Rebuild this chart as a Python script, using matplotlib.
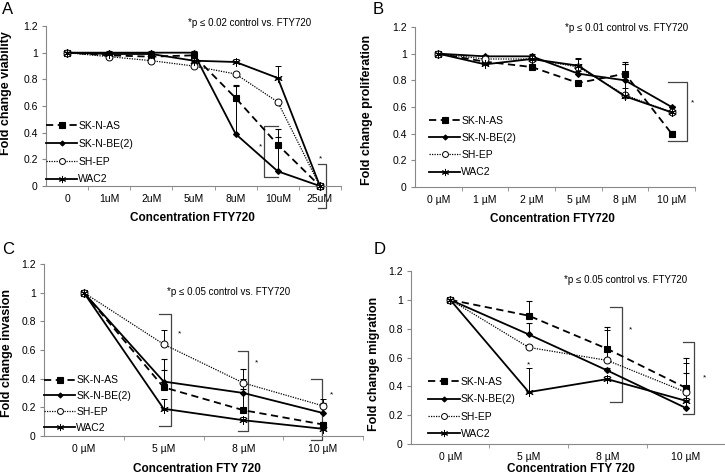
import matplotlib

matplotlib.use("Agg")
import matplotlib.pyplot as plt
from matplotlib.lines import Line2D
import numpy as np

plt.rcParams["font.family"] = ["Liberation Sans", "DejaVu Sans"]

SERIES = ["SK-N-AS", "SK-N-BE(2)", "SH-EP", "WAC2"]

# Panel A: viability
a_cats = ["0", "1uM", "2uM", "5uM", "8uM", "10uM", "25uM"]
a_vals = {
    "SK-N-AS": [1.0, 0.98, 0.97, 0.98, 0.66, 0.31, 0.0],
    "SK-N-BE(2)": [1.0, 1.0, 1.0, 1.0, 0.39, 0.11, 0.0],
    "SH-EP": [1.0, 0.97, 0.94, 0.90, 0.84, 0.63, 0.0],
    "WAC2": [1.0, 0.99, 0.99, 0.94, 0.93, 0.81, 0.0],
}
a_err = {
    "SK-N-AS": [0.0, 0.01, 0.01, 0.02, 0.10, 0.12, 0.0],
    "SK-N-BE(2)": [0.0, 0.01, 0.01, 0.01, 0.36, 0.26, 0.0],
    "SH-EP": [0.0, 0.01, 0.01, 0.01, 0.01, 0.01, 0.0],
    "WAC2": [0.0, 0.01, 0.01, 0.02, 0.02, 0.09, 0.0],
}

# Panel B: proliferation
b_cats = ["0 µM", "1 µM", "2 µM", "5 µM", "8 µM", "10 µM"]
b_vals = {
    "SK-N-AS": [1.0, 0.94, 0.90, 0.78, 0.85, 0.40],
    "SK-N-BE(2)": [1.0, 0.98, 0.98, 0.85, 0.80, 0.60],
    "SH-EP": [1.0, 0.96, 0.96, 0.90, 0.69, 0.56],
    "WAC2": [1.0, 0.92, 0.96, 0.91, 0.68, 0.56],
}
b_err = {
    "SK-N-AS": [0.0, 0.02, 0.01, 0.01, 0.09, 0.02],
    "SK-N-BE(2)": [0.0, 0.01, 0.02, 0.02, 0.12, 0.01],
    "SH-EP": [0.0, 0.02, 0.02, 0.07, 0.05, 0.01],
    "WAC2": [0.0, 0.02, 0.02, 0.05, 0.24, 0.01],
}

# Panel C: invasion
c_cats = ["0 µM", "5 µM", "8 µM", "10 µM"]
c_vals = {
    "SK-N-AS": [1.0, 0.34, 0.18, 0.08],
    "SK-N-BE(2)": [1.0, 0.38, 0.30, 0.16],
    "SH-EP": [1.0, 0.64, 0.37, 0.21],
    "WAC2": [1.0, 0.19, 0.11, 0.05],
}
c_err = {
    "SK-N-AS": [0.0, 0.12, 0.15, 0.02],
    "SK-N-BE(2)": [0.0, 0.16, 0.17, 0.07],
    "SH-EP": [0.0, 0.10, 0.03, 0.05],
    "WAC2": [0.0, 0.07, 0.02, 0.02],
}

# Panel D: migration
d_cats = ["0 µM", "5 µM", "8 µM", "10 µM"]
d_vals = {
    "SK-N-AS": [1.0, 0.89, 0.66, 0.39],
    "SK-N-BE(2)": [1.0, 0.76, 0.51, 0.25],
    "SH-EP": [1.0, 0.67, 0.58, 0.36],
    "WAC2": [1.0, 0.36, 0.45, 0.30],
}
d_err = {
    "SK-N-AS": [0.0, 0.10, 0.15, 0.21],
    "SK-N-BE(2)": [0.0, 0.08, 0.02, 0.24],
    "SH-EP": [0.0, 0.02, 0.21, 0.20],
    "WAC2": [0.0, 0.17, 0.02, 0.02],
}

# significance brackets: (x_vertical, x_arm_end, y_top, y_bottom, x_star, y_star)
a_brackets = [(4.68, 5.0, 0.45, 0.07, 4.60, 0.29), (6.14, 5.95, 0.165, -0.165, 6.02, 0.20)]
b_brackets = [(5.33, 4.92, 0.79, 0.345, 5.45, 0.63)]
c_brackets = [(1.09, 0.94, 0.85, 0.07, 1.2, 0.71), (2.06, 1.93, 0.59, 0.035, 2.17, 0.51),
              (2.99, 2.85, 0.40, -0.03, 3.1, 0.29)]
d_brackets = [(2.19, 2.04, 0.95, 0.29, 2.29, 0.79), (3.11, 2.96, 0.71, 0.21, 3.24, 0.46)]
d_extra_stars = [(1.0, 0.55)]

STYLE = {
    "SK-N-AS": dict(ls=(0, (4, 2.5)), marker="s", ms=5, mfc="black", mew=0.8),
    "SK-N-BE(2)": dict(ls="-", marker="D", ms=3, mfc="black", mew=0.8),
    "SH-EP": dict(ls=(0, (1, 1)), marker="o", ms=5, mfc="white", mew=0.7, lw=0.9),
    "WAC2": dict(ls="-", marker=(6, 2, 0), ms=6, mfc="black", mew=0.7),
}


def draw_panel(ax, cats, vals, errs, brackets, note, note_xy, letter, letter_xy,
               ylabel, ylabel_xy, xlabel, xlabel_xy, legend_anchor, xmax=None, spacing=0.55):
    x = np.arange(len(cats))
    handles = []
    for name in SERIES:
        st = dict(STYLE[name])
        lw = st.pop("lw", 1.3)
        ax.errorbar(x, vals[name], yerr=[np.zeros(len(x)), errs[name]], color="black",
                    lw=lw, mec="black", elinewidth=0.7, capsize=2, capthick=0.7,
                    clip_on=False, zorder=3, **st)
        st["ms"] = st["ms"] * 0.85
        handles.append(Line2D([], [], color="black", lw=lw, mec="black", label=name, **st))
    for xv, xa, yt, yb, xs, ys in brackets:
        ax.plot([xa, xv, xv, xa], [yt, yt, yb, yb], color="#444444", lw=0.9, clip_on=False)
        ax.text(xs, ys, "*", fontsize=6, ha="center", va="center")
    ax.set_xlim(-0.5, xmax if xmax is not None else len(cats) - 0.5)
    ax.set_ylim(0, 1.2)
    ax.set_yticks(np.arange(0, 1.21, 0.2))
    ax.set_yticklabels(["0", "0.2", "0.4", "0.6", "0.8", "1", "1.2"])
    ax.set_xticks(x)
    ax.set_xticklabels(cats)
    ax.set_xticks(np.arange(len(cats)) + 0.5, minor=True)
    ax.tick_params(axis="x", which="major", length=0, pad=6, labelsize=7.5)
    ax.tick_params(axis="x", which="minor", length=3, color="#888888", direction="out")
    ax.tick_params(axis="y", length=3, color="#888888", labelsize=7.5, pad=3)
    for side in ("top", "right"):
        ax.spines[side].set_visible(False)
    for side in ("left", "bottom"):
        ax.spines[side].set_color("#888888")
        ax.spines[side].set_linewidth(0.8)
    ax.set_ylabel(ylabel, fontsize=9, fontweight="bold")
    ax.yaxis.set_label_coords(*ylabel_xy)
    ax.set_xlabel(xlabel, fontsize=8.5, fontweight="bold")
    ax.xaxis.set_label_coords(*xlabel_xy)
    ax.text(*note_xy, note, transform=ax.figure.transFigure, fontsize=7, ha="left", va="center")
    ax.text(*letter_xy, letter, transform=ax.figure.transFigure, fontsize=12, ha="left", va="center")
    ax.legend(handles=handles, loc="lower left", bbox_to_anchor=legend_anchor, frameon=False,
              fontsize=7.5, handlelength=3.0, handletextpad=0.1, labelspacing=spacing,
              borderaxespad=0, borderpad=0)


W, H = 725, 474
fig = plt.figure(figsize=(W / 100, H / 100), dpi=100)


def box(l, r, t, b):
    return [l / W, 1 - b / H, (r - l) / W, (b - t) / H]


ax_a = fig.add_axes(box(46, 341, 26, 186))
ax_b = fig.add_axes(box(415, 695, 27, 187))
ax_c = fig.add_axes(box(44, 363, 264, 436))
ax_d = fig.add_axes(box(411, 725, 271, 444))

draw_panel(ax_a, a_cats, a_vals, a_err, a_brackets, "*p ≤ 0.02 control vs. FTY720",
           (188 / W, 1 - 23 / H), "A", (2 / W, 1 - 9 / H), "Fold change viability",
           (-0.115, 0.58), "Concentration FTY720", (0.495, -0.165), (0.0, 0.01), spacing=0.75)
draw_panel(ax_b, b_cats, b_vals, b_err, b_brackets, "*p ≤ 0.01 control vs. FTY720",
           (565 / W, 1 - 28 / H), "B", (373 / W, 1 - 9 / H), "Fold change proliferation",
           (-0.15, 0.48), "Concentration FTY720", (0.49, -0.165), (0.05, 0.06), spacing=0.7)
draw_panel(ax_c, c_cats, c_vals, c_err, c_brackets, "*p ≤ 0.05 control vs. FTY720",
           (167 / W, 1 - 292 / H), "C", (2 / W, 1 - 249 / H), "Fold change invasion",
           (-0.098, 0.48), "Concentration FTY 720", (0.48, -0.155), (0.0, 0.02), spacing=0.55)
draw_panel(ax_d, d_cats, d_vals, d_err, d_brackets, "*p ≤ 0.05 control vs. FTY720",
           (564 / W, 1 - 280 / H), "D", (374 / W, 1 - 249 / H), "Fold change migration",
           (-0.1, 0.46), "Concentration FTY 720", (0.51, -0.11), (0.055, 0.03), xmax=3.44,
           spacing=0.7)
for xs, ys in d_extra_stars:
    ax_d.text(xs, ys, "*", fontsize=6, ha="center", va="center")

fig.savefig("out.png", dpi=100)
